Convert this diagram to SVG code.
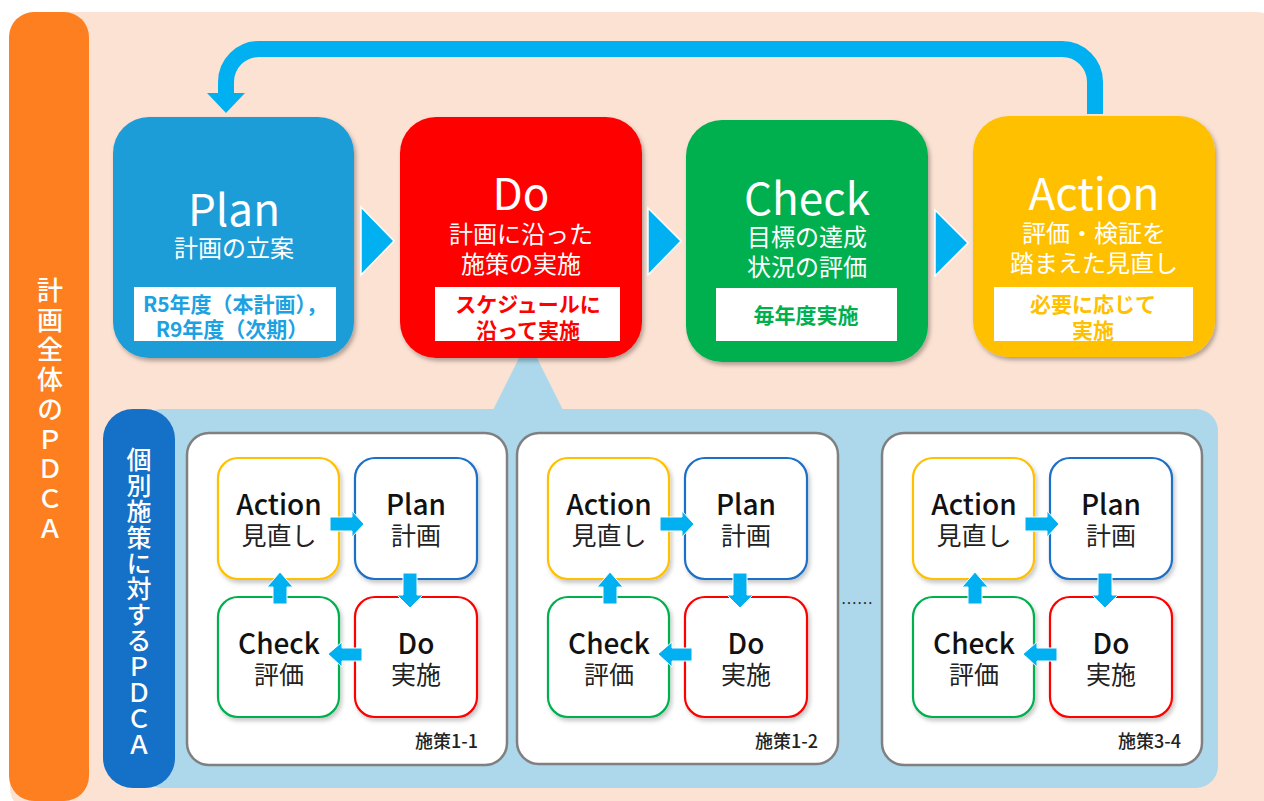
<svg xmlns="http://www.w3.org/2000/svg" width="1264" height="801" viewBox="0 0 1264 801">
<defs>
<filter id="sh" x="-10%" y="-10%" width="125%" height="125%">
<feDropShadow dx="2" dy="3" stdDeviation="2" flood-color="#000" flood-opacity="0.3"/>
</filter>
<filter id="sh2" x="-10%" y="-10%" width="125%" height="125%">
<feDropShadow dx="2" dy="3" stdDeviation="2" flood-color="#000" flood-opacity="0.22"/>
</filter>
<style>
text{font-family:"Noto Sans CJK JP","Noto Sans",sans-serif;text-anchor:middle}
.big{font-size:44px;fill:#fff}
.sub{font-size:24px;fill:#fff}
.box{font-size:21px;font-weight:700}
.sm{fill:#fff;stroke-width:2.2;filter:url(#sh2)}
.en{font-size:28px;font-weight:500;fill:#111}
.ja{font-size:25px;fill:#222}
.lbl{font-size:18px;font-weight:500;fill:#222;text-anchor:end}
.arr{fill:#00B0F0}
.tri{fill:#00B0F0;stroke:#fff;stroke-width:1.5}
.panel{fill:#fff;stroke:#808080;stroke-width:2.5}
.vt{fill:#fff;font-weight:500;writing-mode:vertical-rl;text-orientation:upright;text-anchor:start}
</style>
</defs>
<rect x="10" y="12" width="1270" height="800" rx="24" fill="#FCE2D3"/>
<g id="overall-label">
<rect x="9" y="12" width="80" height="789" rx="25" fill="#FD7F20"/>
<text class="vt" x="50" y="277" font-size="26" letter-spacing="3.8">計画全体のＰＤＣＡ</text>
</g>
<g id="individual-region">
<polygon points="528,340 493,410 563,410" fill="#ADD7EA"/>
<rect x="140" y="409" width="1078" height="379" rx="22" fill="#ADD7EA"/>
</g>
<g id="individual-label">
<rect x="103" y="409" width="72" height="379" rx="30" fill="#1570C7"/>
<text class="vt" x="139" y="447" font-size="25" letter-spacing="0.9">個別施策に対するＰＤＣＡ</text>
</g>
<g id="plan">
<rect x="113" y="117" width="241" height="241" rx="36" fill="#1B9DD8" filter="url(#sh)"/>
<text class="big" x="234" y="226">Plan</text>
<text class="sub" x="234" y="257">計画の立案</text>
<rect x="134" y="287" width="202" height="54" fill="#fff"/>
<text class="box" x="235" y="312" fill="#1CA2E2" font-size="20">R5年度（本計画），</text>
<text class="box" x="232" y="337" fill="#1CA2E2" font-size="20">R9年度（次期）</text>
</g>
<g id="do">
<rect x="400" y="117" width="242" height="241" rx="36" fill="#FF0000" filter="url(#sh)"/>
<text class="big" x="521" y="210">Do</text>
<text class="sub" x="521" y="243">計画に沿った</text>
<text class="sub" x="521" y="273">施策の実施</text>
<rect x="435" y="287" width="185" height="54" fill="#fff"/>
<text class="box" x="528" y="312" fill="#FF0000">スケジュールに</text>
<text class="box" x="528" y="338" fill="#FF0000">沿って実施</text>
</g>
<g id="check">
<rect x="686" y="120" width="242" height="242" rx="36" fill="#00B050" filter="url(#sh)"/>
<text class="big" x="807" y="215">Check</text>
<text class="sub" x="807" y="246">目標の達成</text>
<text class="sub" x="807" y="276">状況の評価</text>
<rect x="716" y="288" width="181" height="53" fill="#fff"/>
<text class="box" x="806" y="323" fill="#00B050">毎年度実施</text>
</g>
<g id="action">
<rect x="973" y="116" width="242" height="241" rx="36" fill="#FFC000" filter="url(#sh)"/>
<text class="big" x="1094" y="210">Action</text>
<text class="sub" x="1094" y="242">評価・検証を</text>
<text class="sub" x="1094" y="272">踏まえた見直し</text>
<rect x="994" y="287" width="199" height="54" fill="#fff"/>
<text class="box" x="1093" y="312" fill="#FFC000">必要に応じて</text>
<text class="box" x="1093" y="338" fill="#FFC000">実施</text>
</g>
<g id="measure-1-1">
<rect class="panel" x="187" y="433" width="320" height="332" rx="22"/>
<g id="m11-action"><rect class="sm" x="218" y="458" width="121" height="121" rx="20" stroke="#FFC000"/><text class="en" x="279" y="515">Action</text><text class="ja" x="279" y="545">見直し</text></g>
<g id="m11-plan"><rect class="sm" x="355" y="458" width="122" height="121" rx="20" stroke="#1F6FC5"/><text class="en" x="416" y="515">Plan</text><text class="ja" x="416" y="545">計画</text></g>
<g id="m11-check"><rect class="sm" x="218" y="597" width="121" height="120" rx="20" stroke="#00B050"/><text class="en" x="279" y="654">Check</text><text class="ja" x="279" y="684">評価</text></g>
<g id="m11-do"><rect class="sm" x="355" y="597" width="122" height="120" rx="20" stroke="#FF0000"/><text class="en" x="416" y="654">Do</text><text class="ja" x="416" y="684">実施</text></g>
<text class="lbl" x="478" y="748">施策1-1</text>
</g>
<g id="measure-1-2">
<rect class="panel" x="517" y="433" width="321" height="331" rx="22"/>
<g id="m12-action"><rect class="sm" x="548" y="458" width="121" height="121" rx="20" stroke="#FFC000"/><text class="en" x="609" y="515">Action</text><text class="ja" x="609" y="545">見直し</text></g>
<g id="m12-plan"><rect class="sm" x="685" y="458" width="122" height="121" rx="20" stroke="#1F6FC5"/><text class="en" x="746" y="515">Plan</text><text class="ja" x="746" y="545">計画</text></g>
<g id="m12-check"><rect class="sm" x="548" y="597" width="121" height="120" rx="20" stroke="#00B050"/><text class="en" x="609" y="654">Check</text><text class="ja" x="609" y="684">評価</text></g>
<g id="m12-do"><rect class="sm" x="685" y="597" width="122" height="120" rx="20" stroke="#FF0000"/><text class="en" x="746" y="654">Do</text><text class="ja" x="746" y="684">実施</text></g>
<text class="lbl" x="818" y="748">施策1-2</text>
</g>
<text id="ellipsis" x="857" y="609" font-size="16" fill="#333">……</text>
<g id="measure-3-4">
<rect class="panel" x="882" y="433" width="320" height="332" rx="22"/>
<g id="m34-action"><rect class="sm" x="913" y="458" width="121" height="121" rx="20" stroke="#FFC000"/><text class="en" x="974" y="515">Action</text><text class="ja" x="974" y="545">見直し</text></g>
<g id="m34-plan"><rect class="sm" x="1050" y="458" width="122" height="121" rx="20" stroke="#1F6FC5"/><text class="en" x="1111" y="515">Plan</text><text class="ja" x="1111" y="545">計画</text></g>
<g id="m34-check"><rect class="sm" x="913" y="597" width="121" height="120" rx="20" stroke="#00B050"/><text class="en" x="974" y="654">Check</text><text class="ja" x="974" y="684">評価</text></g>
<g id="m34-do"><rect class="sm" x="1050" y="597" width="122" height="120" rx="20" stroke="#FF0000"/><text class="en" x="1111" y="654">Do</text><text class="ja" x="1111" y="684">実施</text></g>
<text class="lbl" x="1181" y="748">施策3-4</text>
</g>
<g id="connectors">
<path d="M1095,114 V82 A33,33 0 0 0 1062,49 H259 A33,33 0 0 0 226,82 V96" fill="none" stroke="#00B0F0" stroke-width="16"/>
<polygon class="arr" points="207,93 245,93 226,113"/>
<polygon class="tri" points="361,207 361,275 394,241"/>
<polygon class="tri" points="648,208 648,275 681,241"/>
<polygon class="tri" points="935,210 935,276 968,243"/>
<g id="small-arrows-1">
<path class="arr" d="M330,517 H352 V511 L364,524 L352,537 V531 H330 Z" stroke="#fff" stroke-width="1"/>
<path class="arr" d="M403,573 H417 V595 H423 L410,608 L397,595 H403 Z" stroke="#fff" stroke-width="1"/>
<path class="arr" d="M362,648 V661 H342 V667 L328,654 L342,642 V648 Z" stroke="#fff" stroke-width="1"/>
<path class="arr" d="M273,604 V587 H267 L280,572 L293,587 H287 V604 Z" stroke="#fff" stroke-width="1"/>
</g>
<g id="small-arrows-2" transform="translate(330,0)">
<path class="arr" d="M330,517 H352 V511 L364,524 L352,537 V531 H330 Z" stroke="#fff" stroke-width="1"/>
<path class="arr" d="M403,573 H417 V595 H423 L410,608 L397,595 H403 Z" stroke="#fff" stroke-width="1"/>
<path class="arr" d="M362,648 V661 H342 V667 L328,654 L342,642 V648 Z" stroke="#fff" stroke-width="1"/>
<path class="arr" d="M273,604 V587 H267 L280,572 L293,587 H287 V604 Z" stroke="#fff" stroke-width="1"/>
</g>
<g id="small-arrows-3" transform="translate(695,0)">
<path class="arr" d="M330,517 H352 V511 L364,524 L352,537 V531 H330 Z" stroke="#fff" stroke-width="1"/>
<path class="arr" d="M403,573 H417 V595 H423 L410,608 L397,595 H403 Z" stroke="#fff" stroke-width="1"/>
<path class="arr" d="M362,648 V661 H342 V667 L328,654 L342,642 V648 Z" stroke="#fff" stroke-width="1"/>
<path class="arr" d="M273,604 V587 H267 L280,572 L293,587 H287 V604 Z" stroke="#fff" stroke-width="1"/>
</g>
</g>
</svg>
